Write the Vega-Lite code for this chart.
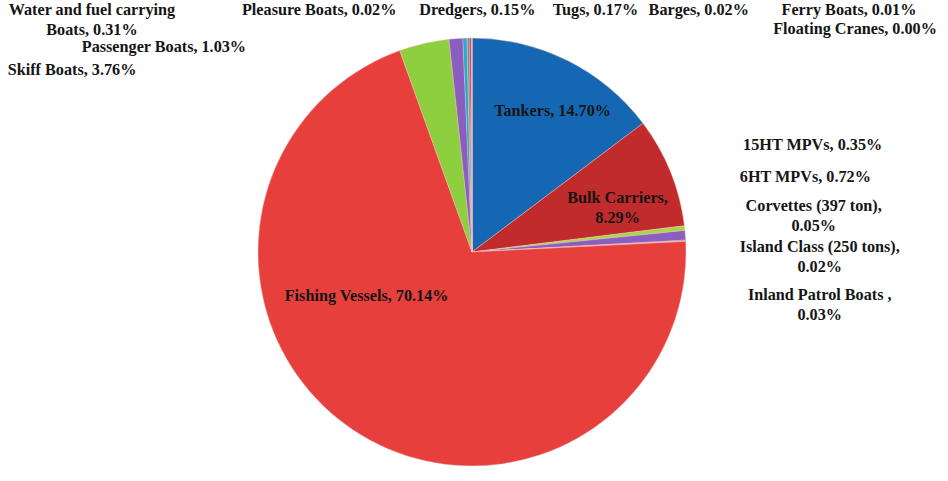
{
  "$schema": "https://vega.github.io/schema/vega-lite/v6.json",
  "autosize": {"type": "none"},
  "width": 944,
  "height": 458,
  "padding": {"left": 0, "top": 23, "right": 4, "bottom": 0},
  "background": "white",
  "config": {"view": {"stroke": null}, "text": {"font": "Liberation Serif", "fontWeight": "bold", "fontSize": 16.2, "fill": "#151515", "lineBreak": "\n", "lineHeight": 20, "align": "center", "baseline": "middle"}},
  "data": {"values": [
    {"ord": 1, "cat": "Tankers", "v": 14.70, "label": "Tankers, 14.70%"},
    {"ord": 2, "cat": "Bulk Carriers", "v": 8.29, "label": "Bulk Carriers,\n8.29%"},
    {"ord": 3, "cat": "15HT MPVs", "v": 0.35, "label": "15HT MPVs, 0.35%"},
    {"ord": 4, "cat": "6HT MPVs", "v": 0.72, "label": "6HT MPVs, 0.72%"},
    {"ord": 5, "cat": "Corvettes (397 ton)", "v": 0.05, "label": "Corvettes (397 ton),\n0.05%"},
    {"ord": 6, "cat": "Island Class (250 tons)", "v": 0.02, "label": "Island Class (250 tons),\n0.02%"},
    {"ord": 7, "cat": "Inland Patrol Boats", "v": 0.03, "label": "Inland Patrol Boats ,\n0.03%"},
    {"ord": 8, "cat": "Fishing Vessels", "v": 70.14, "label": "Fishing Vessels, 70.14%"},
    {"ord": 9, "cat": "Skiff Boats", "v": 3.76, "label": "Skiff Boats, 3.76%"},
    {"ord": 10, "cat": "Passenger Boats", "v": 1.03, "label": "Passenger Boats, 1.03%"},
    {"ord": 11, "cat": "Water and fuel carrying Boats", "v": 0.31, "label": "Water and fuel carrying\nBoats, 0.31%"},
    {"ord": 12, "cat": "Pleasure Boats", "v": 0.02, "label": "Pleasure Boats, 0.02%"},
    {"ord": 13, "cat": "Dredgers", "v": 0.15, "label": "Dredgers, 0.15%"},
    {"ord": 14, "cat": "Tugs", "v": 0.17, "label": "Tugs, 0.17%"},
    {"ord": 15, "cat": "Barges", "v": 0.02, "label": "Barges, 0.02%"},
    {"ord": 16, "cat": "Ferry Boats", "v": 0.01, "label": "Ferry Boats, 0.01%"},
    {"ord": 17, "cat": "Floating Cranes", "v": 0.00, "label": "Floating Cranes, 0.00%"}
  ]},
  "encoding": {
    "theta": {"field": "v", "type": "quantitative", "stack": true},
    "order": {"field": "ord", "type": "quantitative", "sort": "ascending"}
  },
  "layer": [
    {
      "mark": {"type": "arc", "outerRadius": 214, "stroke": "#f4c0c0", "strokeWidth": 0.4},
      "encoding": {
        "color": {"field": "cat", "type": "nominal", "legend": null,
          "scale": {
            "domain": ["Tankers", "Bulk Carriers", "15HT MPVs", "6HT MPVs", "Corvettes (397 ton)", "Island Class (250 tons)", "Inland Patrol Boats", "Fishing Vessels", "Skiff Boats", "Passenger Boats", "Water and fuel carrying Boats", "Pleasure Boats", "Dredgers", "Tugs", "Barges", "Ferry Boats", "Floating Cranes"],
            "range": ["#1667b3", "#c22b2b", "#a8d54a", "#8a5fc0", "#2f8fd0", "#f39a3c", "#f28c8c", "#e63f3c", "#8dcf3e", "#8b5dbf", "#21aec6", "#f39a3c", "#5b7fc0", "#d14a4a", "#9bc25a", "#7d5fa0", "#3aa0c0"]
          }}
      }
    },
    {"mark": {"type": "text", "dx": 10, "dy": 0}, "encoding": {"radius": {"value": 158}, "text": {"condition": {"test": "datum.cat === 'Tankers'", "field": "label"}, "value": ""}}},
    {"mark": {"type": "text", "dx": 0, "dy": 5}, "encoding": {"radius": {"value": 157}, "text": {"condition": {"test": "datum.cat === 'Bulk Carriers'", "field": "label"}, "value": ""}}},
    {"mark": {"type": "text", "dx": -76, "dy": 0}, "encoding": {"radius": {"value": 53}, "text": {"condition": {"test": "datum.cat === 'Fishing Vessels'", "field": "label"}, "value": ""}}},
    {"mark": {"type": "text", "dx": 128, "dy": -83}, "encoding": {"radius": {"value": 214}, "text": {"condition": {"test": "datum.cat === '15HT MPVs'", "field": "label"}, "value": ""}}},
    {"mark": {"type": "text", "dx": 120, "dy": -58}, "encoding": {"radius": {"value": 214}, "text": {"condition": {"test": "datum.cat === '6HT MPVs'", "field": "label"}, "value": ""}}},
    {"mark": {"type": "text", "dx": 128, "dy": -34}, "encoding": {"radius": {"value": 214}, "text": {"condition": {"test": "datum.cat === 'Corvettes (397 ton)'", "field": "label"}, "value": ""}}},
    {"mark": {"type": "text", "dx": 134, "dy": 6}, "encoding": {"radius": {"value": 214}, "text": {"condition": {"test": "datum.cat === 'Island Class (250 tons)'", "field": "label"}, "value": ""}}},
    {"mark": {"type": "text", "dx": 134, "dy": 54}, "encoding": {"radius": {"value": 214}, "text": {"condition": {"test": "datum.cat === 'Inland Patrol Boats'", "field": "label"}, "value": ""}}},
    {"mark": {"type": "text", "dx": -352, "dy": 27}, "encoding": {"radius": {"value": 214}, "text": {"condition": {"test": "datum.cat === 'Skiff Boats'", "field": "label"}, "value": ""}}},
    {"mark": {"type": "text", "dx": -292, "dy": 8}, "encoding": {"radius": {"value": 214}, "text": {"condition": {"test": "datum.cat === 'Passenger Boats'", "field": "label"}, "value": ""}}},
    {"mark": {"type": "text", "dx": -373, "dy": -28}, "encoding": {"radius": {"value": 214}, "text": {"condition": {"test": "datum.cat === 'Water and fuel carrying Boats'", "field": "label"}, "value": ""}}},
    {"mark": {"type": "text", "dx": -148, "dy": -28}, "encoding": {"radius": {"value": 214}, "text": {"condition": {"test": "datum.cat === 'Pleasure Boats'", "field": "label"}, "value": ""}}},
    {"mark": {"type": "text", "dx": 9, "dy": -28}, "encoding": {"radius": {"value": 214}, "text": {"condition": {"test": "datum.cat === 'Dredgers'", "field": "label"}, "value": ""}}},
    {"mark": {"type": "text", "dx": 125, "dy": -28}, "encoding": {"radius": {"value": 214}, "text": {"condition": {"test": "datum.cat === 'Tugs'", "field": "label"}, "value": ""}}},
    {"mark": {"type": "text", "dx": 227, "dy": -28}, "encoding": {"radius": {"value": 214}, "text": {"condition": {"test": "datum.cat === 'Barges'", "field": "label"}, "value": ""}}},
    {"mark": {"type": "text", "dx": 377, "dy": -28}, "encoding": {"radius": {"value": 214}, "text": {"condition": {"test": "datum.cat === 'Ferry Boats'", "field": "label"}, "value": ""}}},
    {"mark": {"type": "text", "dx": 383, "dy": -9}, "encoding": {"radius": {"value": 214}, "text": {"condition": {"test": "datum.cat === 'Floating Cranes'", "field": "label"}, "value": ""}}}
  ]
}
